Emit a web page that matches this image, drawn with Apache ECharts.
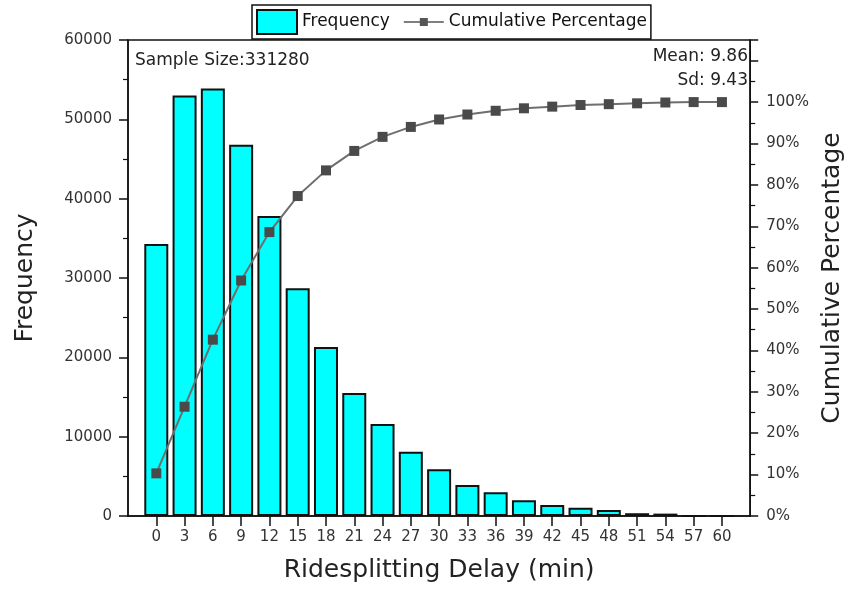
<!DOCTYPE html>
<html>
<head>
<meta charset="utf-8">
<script src="https://cdn.jsdelivr.net/npm/echarts@6/dist/echarts.min.js"></script>
<style>
  html, body { margin: 0; padding: 0; background: #ffffff; }
  #chart { width: 853px; height: 592px; }
</style>
</head>
<body>
<div id="chart"></div>
<script>
// Ridesplitting delay bins (min)
const delays = [0, 3, 6, 9, 12, 15, 18, 21, 24, 27, 30, 33, 36, 39, 42, 45, 48, 51, 54, 57, 60];
// Frequency per bin
const frequency = [34300, 53000, 53900, 46800, 37800, 28700, 21300, 15500, 11600, 8100, 5900, 3900, 3000, 2000, 1400, 1050, 750, 350, 300, 0, 0];
// Cumulative percentage
const cumulativePct = [10.3, 26.4, 42.6, 56.9, 68.6, 77.3, 83.5, 88.2, 91.6, 94.0, 95.8, 97.0, 97.9, 98.5, 98.9, 99.3, 99.5, 99.7, 99.9, 100, 100];
// Tick labels
const xTickValues = delays;
const freqTicks = [0, 10000, 20000, 30000, 40000, 50000, 60000];
const pctTicks = [0, 10, 20, 30, 40, 50, 60, 70, 80, 90, 100];
// Annotation texts
const sampleText = 'Sample Size:331280';
const meanText = 'Mean: 9.86';
const sdText = 'Sd: 9.43';

const FONT = '"DejaVu Sans", "Liberation Sans", sans-serif';
const chart = echarts.init(document.getElementById('chart'), null, { renderer: 'canvas' });

const barData = delays.map((d, i) => [d, frequency[i]]);
const lineData = delays.map((d, i) => [d, cumulativePct[i]]);

const option = {
  backgroundColor: '#ffffff',
  animation: false,
  grid: {
    left: 128, right: 96, top: 40, bottom: 76,
    show: true, borderColor: '#111', borderWidth: 1.5, backgroundColor: 'transparent'
  },
  legend: {
    left: 252, top: 5,
    padding: [4, 4],
    itemWidth: 40, itemHeight: 24, itemGap: 14,
    borderColor: '#111', borderWidth: 1.5,
    textStyle: { fontFamily: FONT, fontSize: 17, color: '#111' },
    data: [
      { name: 'Frequency', icon: 'rect' },
      {
        name: 'Cumulative Percentage',
        icon: 'path://M0,3.2L40,3.2L40,4.8L0,4.8Z M16,0L24,0L24,8L16,8Z',
        itemStyle: { color: '#555', borderWidth: 0 }
      }
    ]
  },
  xAxis: {
    type: 'value',
    min: -3, max: 63, interval: 3,
    name: 'Ridesplitting Delay (min)',
    nameLocation: 'middle', nameGap: 42,
    nameTextStyle: { fontFamily: FONT, fontSize: 25, color: '#222' },
    axisLine: { show: true, onZero: false, lineStyle: { color: '#111', width: 1.5 } },
    axisTick: { show: true, inside: false, length: 10, customValues: xTickValues, lineStyle: { color: '#111', width: 1.5 } },
    axisLabel: { customValues: xTickValues, fontFamily: FONT, fontSize: 15, color: '#333', margin: 14 },
    splitLine: { show: false }
  },
  yAxis: [
    {
      type: 'value', position: 'left',
      min: 0, max: 60000, interval: 10000,
      name: 'Frequency',
      nameLocation: 'middle', nameGap: 90,
      nameTextStyle: { fontFamily: FONT, fontSize: 25, color: '#222' },
      axisLine: { show: true, onZero: false, lineStyle: { color: '#111', width: 1.5 } },
      axisTick: { show: true, inside: false, length: 9, lineStyle: { color: '#111', width: 1.5 } },
      minorTick: { show: true, splitNumber: 2, length: 5, lineStyle: { color: '#111', width: 1.2 } },
      axisLabel: {
        customValues: freqTicks,
        formatter: v => String(v),
        fontFamily: FONT, fontSize: 15, color: '#333', margin: 16
      },
      splitLine: { show: false }
    },
    {
      type: 'value', position: 'right',
      min: 0, max: 115, interval: 10,
      name: 'Cumulative Percentage',
      nameLocation: 'middle', nameGap: 68,
      nameTextStyle: { fontFamily: FONT, fontSize: 25, color: '#222' },
      axisLine: { show: true, onZero: false, lineStyle: { color: '#111', width: 1.5 } },
      axisTick: { show: true, inside: false, length: 8, lineStyle: { color: '#111', width: 1.5 } },
      minorTick: { show: true, splitNumber: 2, length: 5, lineStyle: { color: '#111', width: 1.2 } },
      axisLabel: {
        customValues: pctTicks,
        formatter: v => v + '%',
        fontFamily: FONT, fontSize: 15, color: '#333', margin: 16
      },
      splitLine: { show: false }
    }
  ],
  graphic: [
    { type: 'text', left: 135, top: 52, style: { text: sampleText, font: '17px ' + FONT, fill: '#222' } },
    { type: 'text', right: 105, top: 48, style: { text: meanText, font: '17px ' + FONT, fill: '#222' } },
    { type: 'text', right: 105, top: 72, style: { text: sdText, font: '17px ' + FONT, fill: '#222' } }
  ],
  series: [
    {
      name: 'Frequency',
      type: 'bar',
      yAxisIndex: 0,
      barWidth: 24,
      data: barData,
      itemStyle: { color: '#00FFFF', borderColor: '#111', borderWidth: 2 },
      z: 2
    },
    {
      name: 'Cumulative Percentage',
      type: 'line',
      yAxisIndex: 1,
      data: lineData,
      symbol: 'rect',
      symbolSize: 10,
      lineStyle: { color: '#6e6e6e', width: 2 },
      itemStyle: { color: '#4a4a4a', borderWidth: 0 },
      z: 3
    }
  ]
};
chart.setOption(option);
</script>
</body>
</html>
